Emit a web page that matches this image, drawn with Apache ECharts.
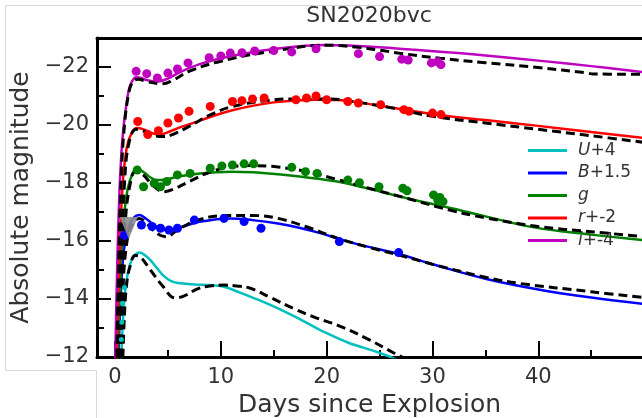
<!DOCTYPE html>
<html>
<head>
<meta charset="utf-8">
<script src="https://cdn.jsdelivr.net/npm/echarts@6/dist/echarts.min.js"></script>
<style>
  html, body { margin: 0; padding: 0; background: #fff; }
  #chart { width: 642px; height: 418px; }
</style>
</head>
<body>
<div id="chart"></div>
<script>
// tick positions
const xMajor = [0, 10, 20, 30, 40];
const xMinor = [5, 15, 25, 35, 45];
const yMajor = [-22, -20, -18, -16, -14, -12];
const yMinor = [-23, -21, -19, -17, -15, -13];

const bandNames = ['U+4', 'B+1.5', 'g', 'r+-2', 'i+-4'];
const bandColors = ['#00bfbf', '#0000ff', '#008000', '#ff0000', '#bf00bf'];

// model curves (solid) [day, mag]
const uSolid = [[0.55,-11.5],[0.75,-13.2],[1.0,-14.42],[1.45,-15.23],[1.9,-15.52],[2.3,-15.6],[2.8,-15.52],[3.35,-15.34],[4.0,-15.05],[4.6,-14.8],[5.3,-14.62],[6.2,-14.54],[7.5,-14.5],[9,-14.48],[10.3,-14.42],[11.6,-14.25],[13.5,-13.98],[15.4,-13.68],[17.5,-13.3],[19.4,-12.93],[22,-12.5],[25.1,-12.13],[27,-11.85]];
const bSolid = [[0.3,-11.5],[0.55,-14.2],[0.85,-15.7],[1.3,-16.5],[1.8,-16.82],[2.3,-16.9],[3.0,-16.75],[4.0,-16.48],[4.9,-16.38],[6,-16.45],[7.8,-16.65],[10.9,-16.78],[13,-16.72],[15.4,-16.6],[17.5,-16.45],[19.4,-16.27],[22,-15.98],[24.5,-15.75],[26.8,-15.55],[30,-15.2],[35,-14.7],[40,-14.33],[45,-14.05],[50,-13.83]];
const gSolid = [[0.25,-11.5],[0.5,-14.5],[0.8,-16.6],[1.2,-17.8],[1.7,-18.35],[2.1,-18.47],[2.7,-18.38],[3.4,-18.18],[4.0,-18.1],[4.8,-18.12],[6,-18.22],[8,-18.33],[11,-18.39],[13,-18.37],[15.4,-18.3],[18,-18.2],[21,-18.05],[24,-17.8],[27.3,-17.5],[31.8,-17.13],[35,-16.85],[39.6,-16.47],[45,-16.22],[50,-16.03]];
const rSolid = [[0.15,-11.5],[0.4,-15.2],[0.7,-17.8],[1.1,-19.2],[1.6,-19.75],[2.1,-19.9],[2.7,-19.85],[3.5,-19.72],[4.2,-19.67],[5,-19.75],[6,-19.9],[8,-20.15],[11,-20.5],[15,-20.78],[19,-20.87],[21,-20.86],[23,-20.78],[27,-20.55],[31,-20.33],[35,-20.17],[40,-19.97],[45,-19.76],[50,-19.55]];
const iSolid = [[0.0,-11.5],[0.2,-15],[0.4,-17.5],[0.6,-19],[0.8,-19.9],[1.0,-20.5],[1.3,-21.2],[1.6,-21.5],[2.0,-21.65],[2.5,-21.62],[3,-21.55],[4,-21.5],[5,-21.6],[6,-21.8],[8,-22.1],[10,-22.3],[12,-22.45],[15,-22.62],[18,-22.73],[20,-22.76],[22,-22.74],[25,-22.68],[28,-22.6],[31,-22.52],[35,-22.4],[40,-22.22],[45,-22.03],[50,-21.82]];

// model curves (dashed black)
const uDashed = [[0.7,-11.5],[0.9,-13.5],[1.1,-14.5],[1.4,-15.1],[1.9,-15.5],[2.4,-15.45],[3.35,-15.0],[4.5,-14.45],[5.7,-14.04],[6.6,-14.12],[7.8,-14.35],[9,-14.45],[10.3,-14.48],[11.5,-14.45],[12.8,-14.37],[14.7,-14.05],[17,-13.65],[19,-13.35],[21,-13.1],[24,-12.6],[26.4,-12.13],[28,-11.85]];
const bDashed = [[0.5,-11.5],[0.75,-14.3],[1.1,-15.9],[1.6,-16.55],[2.3,-16.78],[3.0,-16.6],[4.0,-16.25],[4.8,-16.15],[6,-16.4],[7.8,-16.72],[10.6,-16.88],[13,-16.88],[15.4,-16.78],[18,-16.5],[21,-16.1],[24,-15.78],[27,-15.5],[30,-15.2],[35,-14.75],[38.4,-14.53],[45,-14.25],[50,-14.05]];
const gDashed = [[0.45,-11.5],[0.7,-14.8],[1.0,-16.8],[1.4,-17.9],[1.9,-18.38],[2.6,-18.3],[3.5,-17.95],[4.6,-17.7],[5.5,-17.78],[7,-18.05],[9,-18.38],[11,-18.56],[13,-18.6],[15.4,-18.55],[18,-18.4],[21,-18.12],[24,-17.82],[27.3,-17.5],[31.8,-17.05],[35,-16.8],[40,-16.5],[45,-16.32],[50,-16.15]];
const rDashed = [[0.35,-11.5],[0.6,-15.5],[0.9,-18.0],[1.3,-19.35],[2.0,-19.85],[2.6,-19.8],[3.5,-19.65],[4.6,-19.6],[5.5,-19.68],[7,-19.95],[9,-20.35],[11,-20.63],[14,-20.83],[17,-20.9],[20,-20.9],[23,-20.78],[26,-20.6],[30,-20.3],[35,-20.07],[40,-19.85],[45,-19.63],[50,-19.4]];
const iDashed = [[0.15,-11.5],[0.35,-15.2],[0.6,-18.3],[0.9,-20.0],[1.3,-21.1],[1.7,-21.5],[2.2,-21.58],[3,-21.5],[4.5,-21.42],[5.5,-21.55],[7,-21.85],[10,-22.2],[15,-22.55],[20,-22.75],[23,-22.68],[25,-22.58],[27,-22.47],[30.7,-22.3],[35,-22.15],[40,-21.98],[44.5,-21.8],[45.2,-21.76],[50,-21.75]];

// observed photometry
const uPts = [[0.6,-12.6],[0.65,-13.2],[0.7,-13.85],[0.9,-14.4]];
const bPts = [[0.9,-16.2],[2.5,-16.55],[3.5,-16.5],[4.3,-16.44],[5.1,-16.38],[5.9,-16.44],[7.5,-16.72],[10.3,-16.78],[12.2,-16.67],[13.8,-16.44],[21.2,-15.98],[26.8,-15.6]];
const gPts = [[2.1,-18.45],[2.7,-17.87],[3.7,-17.99],[4.3,-17.87],[4.9,-18.05],[5.9,-18.28],[7.1,-18.33],[9.0,-18.51],[10.1,-18.59],[11.1,-18.62],[12.2,-18.66],[13.1,-18.66],[16.7,-18.54],[18.0,-18.39],[19.1,-18.33],[22.0,-18.1],[23.1,-18.01],[24.95,-17.87],[27.2,-17.82],[27.6,-17.73],[30.1,-17.59],[30.7,-17.5],[30.5,-17.41],[31.0,-17.36]];
const rPts = [[2.15,-20.12],[3.1,-19.67],[4.1,-19.8],[5.0,-20.07],[6.0,-20.24],[7.0,-20.47],[9.0,-20.64],[11.1,-20.81],[12.0,-20.84],[13.0,-20.9],[14.1,-20.93],[17.1,-20.87],[18.1,-20.93],[19.0,-21.0],[20.0,-20.87],[22.0,-20.81],[23.0,-20.76],[25.1,-20.7],[27.3,-20.53],[27.8,-20.47],[30.0,-20.41],[30.8,-20.36]];
const iPts = [[2.0,-21.85],[3.0,-21.77],[4.0,-21.62],[5.0,-21.79],[5.9,-21.93],[6.9,-22.14],[8.9,-22.32],[10.0,-22.38],[10.9,-22.48],[12.0,-22.49],[13.2,-22.55],[15.0,-22.57],[16.7,-22.52],[19.0,-22.63],[23.0,-22.46],[25.0,-22.36],[27.1,-22.27],[27.7,-22.24],[29.9,-22.14],[30.8,-22.08],[30.5,-22.18]];
// upper limit (grey triangle)
const limitPts = [[1.3,-16.45]];

const FONT = 'DejaVu Sans';
const solids = [uSolid, bSolid, gSolid, rSolid, iSolid];
const dashes = [uDashed, bDashed, gDashed, rDashed, iDashed];
const points = [uPts, bPts, gPts, rPts, iPts];

const minusFmt = v => (v < 0 ? '\u2212' + Math.abs(v) : String(v));

let series = [];
solids.forEach((d, k) => {
  series.push({
    name: bandNames[k], type: 'line', data: d, showSymbol: false,
    smooth: 0.4, z: 2,
    lineStyle: {color: bandColors[k], width: 2.5}, itemStyle: {color: bandColors[k]}
  });
});
dashes.forEach((d) => {
  series.push({
    type: 'line', data: d, showSymbol: false, smooth: 0.4, z: 3,
    lineStyle: {color: '#000', width: 3, type: [9, 5]}
  });
});
points.forEach((d, k) => {
  series.push({
    type: 'scatter', data: d, symbolSize: k === 0 ? 5 : 9, z: 4,
    itemStyle: {color: bandColors[k], opacity: 1}
  });
});
series.push({
  type: 'scatter', data: limitPts, symbol: 'triangle', symbolRotate: 180,
  symbolSize: [18, 22], z: 5, itemStyle: {color: '#8c8c8c', opacity: 0.9}
});

const xBase = {type: 'value', min: -1.7, max: 49.8, gridIndex: 0, splitLine: {show: false}};
const yBase = {type: 'value', min: -23, max: -12, inverse: true, gridIndex: 0, splitLine: {show: false}};

const chart = echarts.init(document.getElementById('chart'));
chart.setOption({
  animation: false,
  backgroundColor: '#fff',
  grid: {left: 97, right: 0, top: 38, bottom: 61, containLabel: false, outerBoundsMode: 'none'},
  graphic: [
    {type: 'polyline', silent: true, z: 0,
     shape: {points: [[642, 5.5], [5.5, 5.5], [5.5, 370.5], [96.5, 370.5], [96.5, 418]]},
     style: {stroke: '#d8d8d8', lineWidth: 1, fill: null}},
    {type: 'text', x: 369, y: 16, z: 10,
     style: {text: 'SN2020bvc', font: '22px "DejaVu Sans"', fill: '#333',
             textAlign: 'center', textVerticalAlign: 'middle'}}
  ],
  legend: {
    orient: 'vertical', left: 523, top: 137, itemWidth: 39, itemHeight: 3, itemGap: 5.5,
    icon: 'rect', data: bandNames,
    formatter: name => '{sp|}{it|' + name.charAt(0) + '}' + name.slice(1),
    textStyle: {fontFamily: FONT, fontSize: 17, color: '#333', lineHeight: 17,
      rich: {sp: {width: 6}, it: {fontStyle: 'italic', fontFamily: FONT, fontSize: 17, color: '#333'}}}
  },
  xAxis: [
    Object.assign({}, xBase, {
      position: 'bottom',
      name: 'Days since Explosion', nameLocation: 'middle', nameGap: 34,
      nameTextStyle: {fontFamily: FONT, fontSize: 25, color: '#333'},
      axisLine: {show: true, onZero: false, lineStyle: {color: '#000', width: 3}},
      axisTick: {show: true, inside: true, length: 16, customValues: xMajor, lineStyle: {color: '#000', width: 2}},
      axisLabel: {customValues: xMajor, fontFamily: FONT, fontSize: 21, color: '#333', margin: 10}
    }),
    Object.assign({}, xBase, {
      position: 'bottom',
      axisLine: {show: false, onZero: false},
      axisTick: {show: true, inside: true, length: 7, customValues: xMinor, lineStyle: {color: '#000', width: 2}},
      axisLabel: {show: false}
    }),
    Object.assign({}, xBase, {
      position: 'top',
      axisLine: {show: true, onZero: false, lineStyle: {color: '#000', width: 3}},
      axisTick: {show: false}, axisLabel: {show: false}
    })
  ],
  yAxis: [
    Object.assign({}, yBase, {
      position: 'left',
      name: 'Absolute magnitude', nameLocation: 'middle', nameGap: 60, nameRotate: 90,
      nameTextStyle: {fontFamily: FONT, fontSize: 25, color: '#333'},
      axisLine: {show: true, onZero: false, lineStyle: {color: '#000', width: 3}},
      axisTick: {show: true, inside: true, length: 14, customValues: yMajor, lineStyle: {color: '#000', width: 2}},
      axisLabel: {customValues: yMajor, formatter: minusFmt, fontFamily: FONT, fontSize: 21, color: '#333', margin: 8}
    }),
    Object.assign({}, yBase, {
      position: 'left',
      axisLine: {show: false, onZero: false},
      axisTick: {show: true, inside: true, length: 7, customValues: yMinor, lineStyle: {color: '#000', width: 2}},
      axisLabel: {show: false}
    })
  ],
  series: series
});
</script>
</body>
</html>
